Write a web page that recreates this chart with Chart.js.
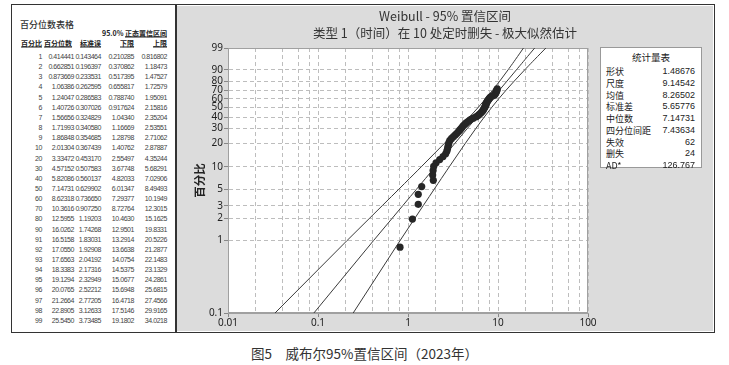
<!DOCTYPE html>
<html>
<head>
<meta charset="utf-8">
<script src="https://cdn.jsdelivr.net/npm/chart.js@4.4.0/dist/chart.umd.min.js"></script>
<style>
body { margin: 0; width: 729px; height: 365px; background: #fff; position: relative; overflow: hidden; font-family: "Noto Sans CJK SC", "Liberation Sans", sans-serif; color: #333; }
#frame { position: absolute; left: 11px; top: 4px; width: 704px; height: 329px; box-sizing: border-box; border: 1.5px solid #333; z-index: 3; pointer-events: none; }
#divider { position: absolute; left: 175px; top: 4px; width: 1.5px; height: 329px; background: #333; z-index: 3; }
#plotwrap { position: absolute; left: 177px; top: 6px; width: 536px; height: 325px; }
.t { position: absolute; white-space: nowrap; line-height: 1; }
.num { font-family: "Liberation Sans", sans-serif; font-size: 7px; letter-spacing: -0.45px; color: #444; transform: translateY(-50%); }
.hd { font-size: 7px; font-weight: bold; color: #222; text-decoration: underline; transform: translateY(-50%); }
#stats { position: absolute; left: 600px; top: 47px; width: 102px; height: 121px; box-sizing: border-box; border: 1px solid #999; background: #fff; }
.st { position: absolute; font-size: 9px; color: #222; transform: translateY(-50%); white-space: nowrap; line-height: 1; }
#caption { position: absolute; left: 0; width: 729px; top: 343px; text-align: center; font-size: 13.5px; color: #333; }
</style>
</head>
<body>
<div id="frame"></div>
<div id="divider"></div>
<div id="table"></div>
<div id="plotwrap"><canvas id="myChart"></canvas></div>
<div id="stats"></div>
<div id="caption"></div>
<script>
// percentile table (also used for the fitted line and the 95% CI lines)
const pctLevels = [1, 2, 3, 4, 5, 6, 7, 8, 9, 10, 20, 30, 40, 50, 60, 70, 80, 90, 91, 92, 93, 94, 95, 96, 97, 98, 99];
const pctValues = ['0.414441', '0.662851', '0.873669', '1.06386', '1.24047', '1.40726', '1.56656', '1.71993', '1.86848', '2.01304', '3.33472', '4.57152', '5.82086', '7.14731', '8.62318', '10.3616', '12.5955', '16.0262', '16.5158', '17.0550', '17.6563', '18.3383', '19.1294', '20.0765', '21.2664', '22.8905', '25.5450'];
const stdErr = ['0.143464', '0.196397', '0.233531', '0.262595', '0.286583', '0.307026', '0.324829', '0.340580', '0.354685', '0.367439', '0.453170', '0.507583', '0.560137', '0.629902', '0.736650', '0.907250', '1.19203', '1.74268', '1.83031', '1.92908', '2.04192', '2.17316', '2.32949', '2.52212', '2.77205', '3.12633', '3.73485'];
const lowerCI = ['0.210285', '0.370862', '0.517395', '0.655817', '0.788740', '0.917624', '1.04340', '1.16669', '1.28798', '1.40762', '2.55497', '3.67748', '4.82033', '6.01347', '7.29377', '8.72764', '10.4630', '12.9501', '13.2914', '13.6638', '14.0754', '14.5375', '15.0677', '15.6948', '16.4718', '17.5146', '19.1802'];
const upperCI = ['0.816802', '1.18473', '1.47527', '1.72579', '1.95091', '2.15816', '2.35204', '2.53551', '2.71062', '2.87887', '4.35244', '5.68291', '7.02906', '8.49493', '10.1949', '12.3015', '15.1625', '19.8331', '20.5226', '21.2877', '22.1483', '23.1329', '24.2861', '25.6815', '27.4566', '29.9165', '34.0218'];
// where the three lines leave the plot at 0.1 %
const bottomPct = 0.1;
const bottomFit = 0.09, bottomLower = 0.0333, bottomUpper = 0.246;

// failure times and plotting positions (%)
const failTimes = [0.815, 1.12, 1.30, 1.30, 1.42, 1.91, 1.88, 1.90, 1.93, 2.05, 2.25, 2.45, 2.62, 2.70, 2.75, 2.78, 2.82, 2.86, 2.92, 3.05,
  3.20, 3.35, 3.50, 3.62, 3.75, 3.88, 4.00, 4.10, 4.25, 4.40, 4.60, 4.80, 5.00, 5.30, 5.70, 5.95, 6.15, 6.35, 6.55, 6.70,
  6.85, 6.95, 7.05, 7.15, 7.25, 7.30, 7.35, 7.45, 7.55, 7.65, 7.80, 7.95, 8.10, 8.30, 8.70, 9.10, 9.30, 9.45, 9.55, 9.65,
  9.75, 9.80];
const failPct = [0.81, 1.97, 3.13, 4.28, 5.44, 6.60, 7.75, 8.91, 10.07, 11.23, 12.38, 13.54, 14.70, 15.86, 17.01, 18.17, 19.33, 20.49, 21.64, 22.80,
  23.96, 25.12, 26.27, 27.43, 28.59, 29.75, 30.90, 32.06, 33.22, 34.38, 35.53, 36.69, 37.85, 39.00, 40.16, 41.32, 42.48, 43.63, 44.79, 45.95,
  47.11, 48.26, 49.42, 50.58, 51.74, 52.89, 54.05, 55.21, 56.37, 57.52, 58.68, 59.84, 61.00, 62.15, 63.31, 64.47, 65.63, 66.78, 67.94, 69.10,
  70.25, 71.41];

// axes
const yTicks = [0.1, 1, 2, 3, 5, 10, 20, 30, 40, 50, 60, 70, 80, 90, 99];
const xLabels = [0.01, 0.1, 1, 10, 100];
const xGridMults = [1, 2, 4, 6, 8];

// stats box
const statNames = ['形状', '尺度', '均值', '标准差', '中位数', '四分位间距', '失效', '删失', 'AD*'];
const statValues = ['1.48676', '9.14542', '8.26502', '5.65776', '7.14731', '7.43634', '62', '24', '126.767'];

const chartTitle = ['Weibull - 95% 置信区间', '类型 1（时间）在 10 处定时删失 - 极大似然估计'];
const captionText = '图5　威布尔95%置信区间（2023年）';

document.getElementById('caption').textContent = captionText;

// ---- percentile table on the left ----
const tbl = document.getElementById('table');
function addText(parent, cls, text, x, y, align, extra) {
  const d = document.createElement('div');
  d.className = cls;
  d.textContent = text;
  if (align === 'right') {
    d.style.right = (729 - x) + 'px';
  } else {
    d.style.left = x + 'px';
  }
  d.style.top = y + 'px';
  if (extra) Object.assign(d.style, extra);
  parent.appendChild(d);
  return d;
}
addText(tbl, 't', '百分位数表格', 20, 20, 'left', { fontSize: '9px', fontWeight: '500', color: '#333' });
const ci = addText(tbl, 't hd', '', 167, 33, 'right', { textDecoration: 'none' });
ci.innerHTML = '95.0% <span style="text-decoration:underline">正态置信区间</span>';
addText(tbl, 't hd', '百分比', 42, 43, 'right');
addText(tbl, 't hd', '百分位数', 72, 43, 'right');
addText(tbl, 't hd', '标准误', 101, 43, 'right');
addText(tbl, 't hd', '下限', 134, 43, 'right');
addText(tbl, 't hd', '上限', 167, 43, 'right');
pctLevels.forEach(function (p, k) {
  const y = 56 + 10.15 * k;
  addText(tbl, 't num', String(p), 42, y, 'right');
  addText(tbl, 't num', pctValues[k], 74, y, 'right');
  addText(tbl, 't num', stdErr[k], 101, y, 'right');
  addText(tbl, 't num', lowerCI[k], 134, y, 'right');
  addText(tbl, 't num', upperCI[k], 167, y, 'right');
});

// ---- stats box ----
const sb = document.getElementById('stats');
const title = document.createElement('div');
title.className = 'st';
title.textContent = '统计量表';
Object.assign(title.style, { left: '0', width: '100px', textAlign: 'center', top: '10px', fontSize: '9.5px' });
sb.appendChild(title);
statNames.forEach(function (n, k) {
  const y = 23 + 11.75 * k;
  const a = document.createElement('div');
  a.className = 'st'; a.textContent = n;
  Object.assign(a.style, { left: '5px', top: y + 'px' });
  sb.appendChild(a);
  const b = document.createElement('div');
  b.className = 'st'; b.textContent = statValues[k];
  Object.assign(b.style, { right: '6px', top: y + 'px', fontFamily: '"Liberation Sans", sans-serif' });
  sb.appendChild(b);
});

// ---- Weibull probability scale for the y axis ----
const tf = p => Math.log(-Math.log(1 - p / 100));
class WeibullScale extends Chart.Scale {
  determineDataLimits() { this.min = yTicks[0]; this.max = yTicks[yTicks.length - 1]; }
  buildTicks() { return yTicks.map(v => ({ value: v })); }
  getLabelForValue(v) { return String(v); }
  configure() {
    super.configure();
    this._t0 = tf(this.min);
    this._t1 = tf(this.max);
  }
  getPixelForValue(v) { return this.getPixelForDecimal((tf(v) - this._t0) / (this._t1 - this._t0)); }
  getValueForPixel(px) {
    const t = this._t0 + this.getDecimalForPixel(px) * (this._t1 - this._t0);
    return 100 * (1 - Math.exp(-Math.exp(t)));
  }
}
WeibullScale.id = 'weibull';
WeibullScale.defaults = {};
Chart.register(WeibullScale);

const backPlugin = {
  id: 'back',
  beforeDraw(chart) {
    const { ctx, chartArea: a } = chart;
    ctx.save();
    ctx.fillStyle = '#dcdcdc';
    ctx.fillRect(0, 0, chart.width, chart.height);
    ctx.fillStyle = '#ffffff';
    ctx.fillRect(a.left, a.top, a.right - a.left, a.bottom - a.top);
    ctx.restore();
  },
  beforeDatasetsDraw(chart) {
    const { ctx, chartArea: a } = chart;
    ctx.save();
    ctx.strokeStyle = '#a0a0a0';
    ctx.lineWidth = 1;
    ctx.strokeRect(a.left + 0.5, a.top + 0.5, a.right - a.left - 1, a.bottom - a.top - 1);
    ctx.restore();
  }
};

const linePts = (bottomX, col) => [{ x: bottomX, y: bottomPct }].concat(pctLevels.map((p, k) => ({ x: parseFloat(col[k]), y: p })));
const lineStyle = { showLine: true, pointRadius: 0, borderColor: '#3a3a3a', borderWidth: 1, tension: 0 };

const ctx = document.getElementById('myChart').getContext('2d');
const myChart = new Chart(ctx, {
  type: 'scatter',
  data: {
    datasets: [
      { label: '失效', data: failTimes.map((x, k) => ({ x: x, y: failPct[k] })), pointRadius: 3.6, pointBackgroundColor: '#262626', pointBorderColor: '#262626', pointBorderWidth: 0 },
      Object.assign({ label: '拟合', data: linePts(bottomFit, pctValues) }, lineStyle),
      Object.assign({ label: '下限', data: linePts(bottomLower, lowerCI) }, lineStyle),
      Object.assign({ label: '上限', data: linePts(bottomUpper, upperCI) }, lineStyle)
    ]
  },
  options: {
    responsive: true,
    maintainAspectRatio: false,
    animation: false,
    layout: { padding: 0 },
    plugins: {
      legend: { display: false },
      tooltip: { enabled: false },
      title: {
        display: true,
        text: chartTitle,
        color: '#333',
        font: { family: '"Noto Sans CJK SC", sans-serif', size: 12.5, weight: 'normal', lineHeight: 1.385 },
        padding: { top: 1.4, bottom: 6 }
      }
    },
    scales: {
      x: {
        type: 'logarithmic',
        min: 0.01,
        max: 100,
        afterBuildTicks: function (scale) {
          const ticks = [];
          xLabels.forEach(function (d) {
            xGridMults.forEach(function (m) {
              const v = +(d * m).toPrecision(6);
              if (v <= 100) ticks.push({ value: v });
            });
          });
          scale.ticks = ticks;
        },
        afterFit: function (scale) { scale.height = 18; },
        ticks: {
          autoSkip: false, maxRotation: 0, padding: 0, color: '#222',
          font: { family: '"Noto Sans", sans-serif', size: 10 },
          callback: v => xLabels.indexOf(v) >= 0 ? String(v) : ''
        },
        grid: {
          color: '#bdbdbd', lineWidth: 1, tickLength: 4,
          tickColor: c => (c.tick && xLabels.indexOf(c.tick.value) >= 0) ? '#888' : 'rgba(0,0,0,0)'
        },
        border: { display: true, color: '#a0a0a0', width: 1, dash: [4, 3] }
      },
      y: {
        type: 'weibull',
        position: 'left',
        afterFit: function (scale) { scale.width = 51; },
        ticks: {
          autoSkip: false, padding: 1, color: '#222',
          font: { family: '"Noto Sans", sans-serif', size: 10 },
          callback: v => String(v)
        },
        grid: { color: '#bdbdbd', lineWidth: 1, tickLength: 4, tickColor: '#888' },
        border: { display: true, color: '#a0a0a0', width: 1, dash: [4, 3] },
        title: {
          display: true, text: '百分比', color: '#222',
          font: { family: '"Noto Sans CJK SC", sans-serif', size: 11.5, weight: 'bold', lineHeight: 1.2 },
          padding: { top: 16, bottom: 0 }
        }
      },
      // empty right-hand axis that reserves the room for the stats box
      yRight: {
        type: 'linear',
        position: 'right',
        afterFit: function (scale) { scale.width = 125; },
        grid: { display: false },
        border: { display: false },
        ticks: { display: false }
      }
    }
  },
  plugins: [backPlugin]
});
</script>
</body>
</html>
